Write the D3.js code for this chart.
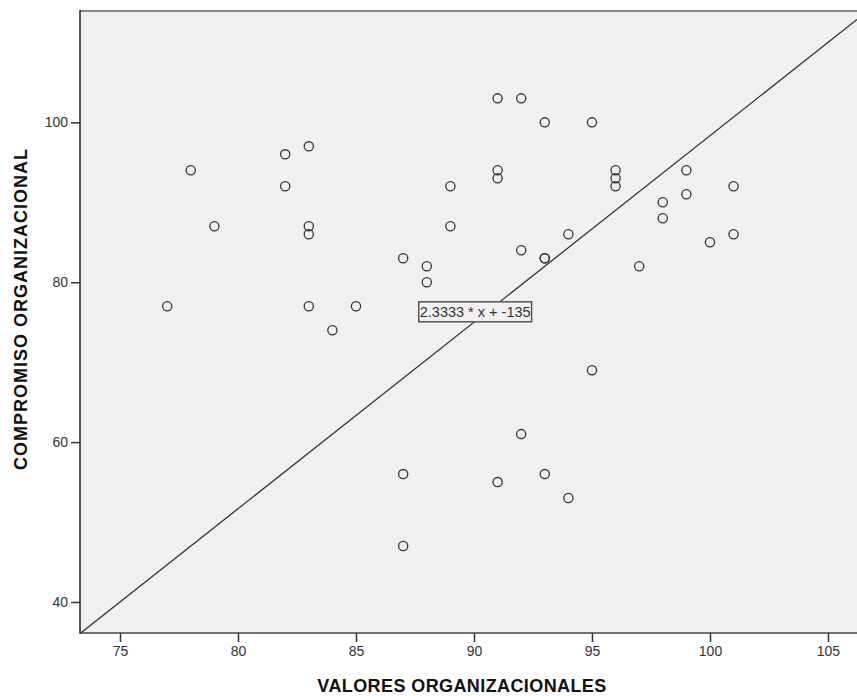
<!DOCTYPE html>
<html lang="es">
  <head>
    <meta charset="UTF-8" />
    <title>Valores vs Compromiso</title>
    <style>
      body {
        margin: 0;
        padding: 0;
        background-color: #ffffff;
        font-family: Arial, "Liberation Sans", sans-serif;
      }
      #chart svg {
        display: block;
      }
      .tick text {
        font-size: 14px;
        fill: #333;
      }
    </style>
  </head>
  <body>
    <div id="chart"></div>

    <script src="https://d3js.org/d3.v7.min.js"></script>
    <script>
      // valores organizacionales (x) y compromiso organizacional (y)
      const valores = [
        77, 78, 79, 82, 82, 83, 83, 83, 83, 84, 85, 87, 87, 87, 88, 88, 89, 89,
        91, 91, 91, 91, 92, 92, 92, 93, 93, 93, 93, 94, 94, 95, 95, 96, 96, 96,
        97, 98, 98, 99, 99, 100, 101, 101
      ];
      const compromiso = [
        77, 94, 87, 96, 92, 97, 87, 86, 77, 74, 77, 83, 56, 47, 82, 80, 92, 87,
        103, 94, 93, 55, 103, 84, 61, 100, 83, 83, 56, 86, 53, 100, 69, 94, 93,
        92, 82, 90, 88, 94, 91, 85, 92, 86
      ];
      const xTicks = [75, 80, 85, 90, 95, 100, 105];
      const yTicks = [40, 60, 80, 100];
      const slope = 2.3333;
      const intercept = -135;
      const fitLabel = "2.3333 * x + -135";
      const labelAt = [90.05, 76.3];

      const width = 857,
        height = 696;
      const plotL = 80,
        plotR = 857,
        plotT = 11,
        plotB = 633;

      const svg = d3
        .select("#chart")
        .append("svg")
        .attr("width", width)
        .attr("height", height);

      const x = d3.scaleLinear().domain([73.305, 106.23]).range([plotL, plotR]);
      const y = d3.scaleLinear().domain([36.12, 113.93]).range([plotB, plotT]);

      svg
        .append("clipPath")
        .attr("id", "plot-clip")
        .append("rect")
        .attr("x", plotL)
        .attr("y", plotT)
        .attr("width", plotR - plotL)
        .attr("height", plotB - plotT);

      // panel
      svg
        .append("rect")
        .attr("x", plotL)
        .attr("y", plotT)
        .attr("width", plotR - plotL)
        .attr("height", plotB - plotT)
        .style("fill", "#f0f0f0");

      const plot = svg.append("g").attr("clip-path", "url(#plot-clip)");

      // fit line
      const xd = x.domain();
      plot
        .append("line")
        .attr("x1", x(xd[0]))
        .attr("y1", y(slope * xd[0] + intercept))
        .attr("x2", x(xd[1]))
        .attr("y2", y(slope * xd[1] + intercept))
        .style("stroke", "#333")
        .style("stroke-width", 1.3);

      // points
      plot
        .selectAll("circle.pt")
        .data(valores.map((v, i) => [v, compromiso[i]]))
        .enter()
        .append("circle")
        .attr("class", "pt")
        .attr("cx", (d) => x(d[0]))
        .attr("cy", (d) => y(d[1]))
        .attr("r", 4.6)
        .style("fill", "none")
        .style("stroke", "#333")
        .style("stroke-width", 1.3);

      // fit label
      const lbl = svg.append("g");
      const lblText = lbl
        .append("text")
        .attr("x", x(labelAt[0]))
        .attr("y", y(labelAt[1]))
        .attr("text-anchor", "middle")
        .attr("dy", "0.36em")
        .style("font-size", "14.5px")
        .style("fill", "#333")
        .text(fitLabel);
      const bb = lblText.node().getBBox();
      lbl
        .insert("rect", "text")
        .attr("x", bb.x - 1)
        .attr("y", y(labelAt[1]) - 10)
        .attr("width", bb.width + 2)
        .attr("height", 20)
        .style("fill", "#f0f0f0")
        .style("stroke", "#555")
        .style("stroke-width", 1.5);

      // top border
      svg
        .append("line")
        .attr("x1", plotL)
        .attr("x2", plotR)
        .attr("y1", plotT)
        .attr("y2", plotT)
        .style("stroke", "#888")
        .style("stroke-width", 2);

      // axes
      const xAxis = svg
        .append("g")
        .attr("transform", `translate(0,${plotB})`)
        .call(d3.axisBottom(x).tickValues(xTicks).tickSize(9).tickPadding(4));
      const yAxis = svg
        .append("g")
        .attr("transform", `translate(${plotL},0)`)
        .call(d3.axisLeft(y).tickValues(yTicks).tickSize(9).tickPadding(3));

      [xAxis, yAxis].forEach((g) => {
        g.select(".domain").remove();
        g.selectAll(".tick line")
          .style("stroke", "#333")
          .style("stroke-width", 1.5);
        g.selectAll(".tick text").style("font-family", "Arial, sans-serif");
      });

      svg
        .append("line")
        .attr("x1", plotL)
        .attr("x2", plotR)
        .attr("y1", plotB)
        .attr("y2", plotB)
        .style("stroke", "#444")
        .style("stroke-width", 1.5);
      svg
        .append("line")
        .attr("x1", plotL)
        .attr("x2", plotL)
        .attr("y1", plotT - 1)
        .attr("y2", plotB + 0.75)
        .style("stroke", "#222")
        .style("stroke-width", 1.5);

      // titles
      svg
        .append("text")
        .attr("x", 462)
        .attr("y", 692)
        .attr("text-anchor", "middle")
        .style("font-size", "18px")
        .style("letter-spacing", "0.4px")
        .style("font-weight", "bold")
        .style("fill", "#111")
        .text("VALORES ORGANIZACIONALES");

      svg
        .append("text")
        .attr("transform", "translate(27,309) rotate(-90)")
        .attr("text-anchor", "middle")
        .style("font-size", "18px")
        .style("letter-spacing", "1px")
        .style("font-weight", "bold")
        .style("fill", "#111")
        .text("COMPROMISO ORGANIZACIONAL");
    </script>
  </body>
</html>
